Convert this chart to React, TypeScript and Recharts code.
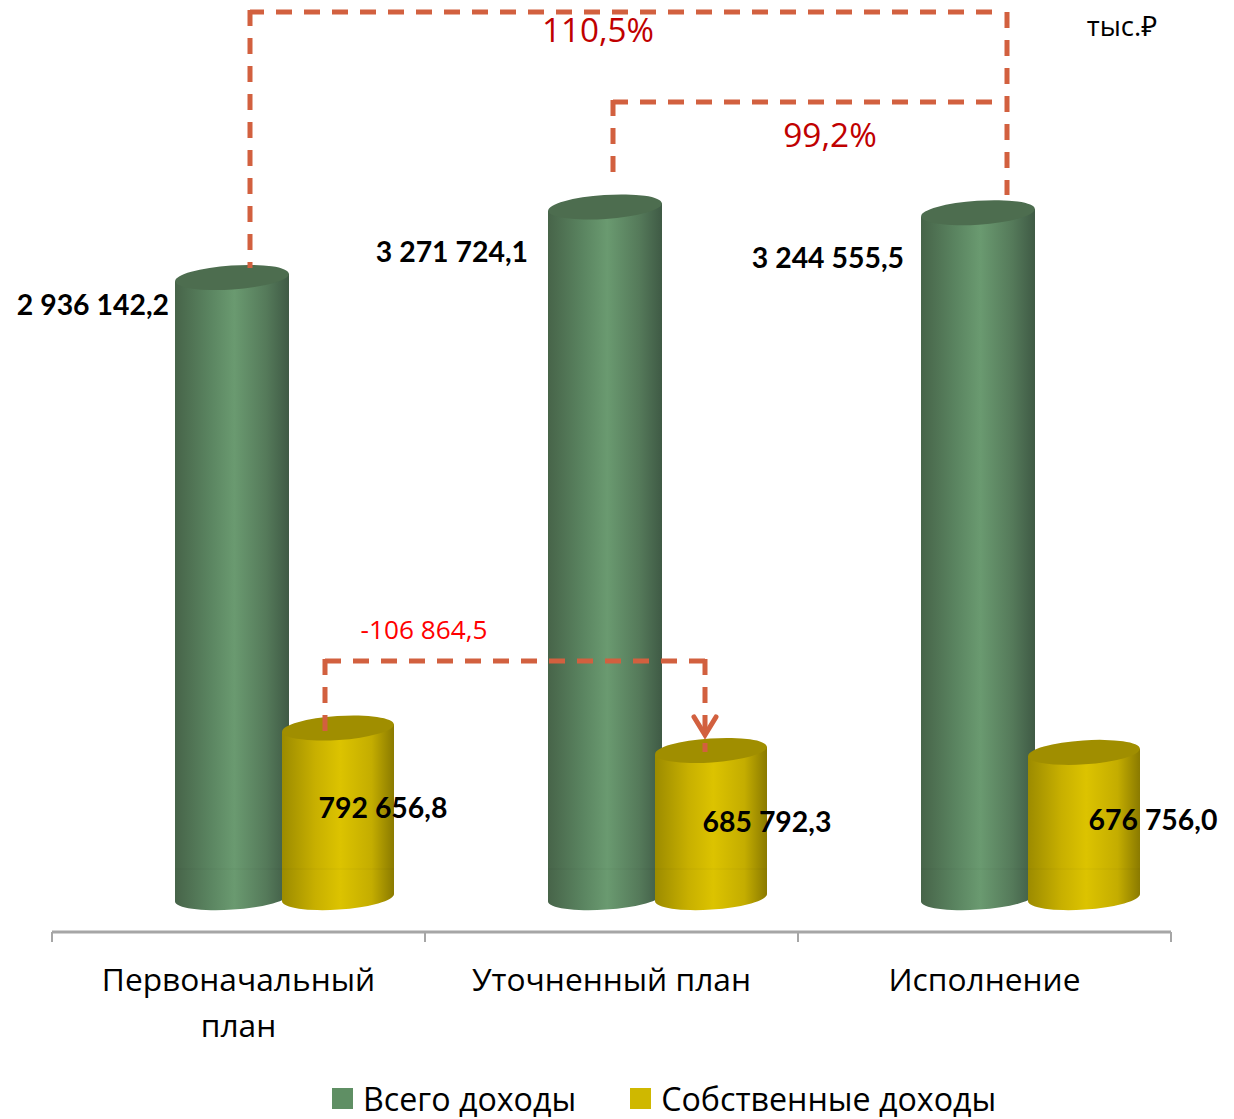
import { BarChart, Bar, XAxis, YAxis, Legend, LabelList } from "recharts";

const categories = ["Первоначальный план", "Уточненный план", "Исполнение"];
const categoryLines = [["Первоначальный", "план"], ["Уточненный план"], ["Исполнение"]];
const totalIncome = [2936142.2, 3271724.1, 3244555.5];
const ownIncome = [792656.8, 685792.3, 676756.0];
const totalLabels = ["2 936 142,2", "3 271 724,1", "3 244 555,5"];
const ownLabels = ["792 656,8", "685 792,3", "676 756,0"];

const data = categories.map((name, i) => ({ name, total: totalIncome[i], own: ownIncome[i] }));

const W = 1234;
const H = 1119;
const SHIFT = 47; // the 3d picture sits to the right of the category centre
const ARROW = "#d2603f";
const LABEL_FONT = "Lato, 'Noto Sans', sans-serif";
const TEXT_FONT = "'Open Sans', 'Noto Sans', sans-serif";

// label anchors relative to the bar top (3d labels in the original were hand placed)
const totalOffset = [
  { dx: -6, dy: 26 },
  { dx: -20, dy: 44 },
  { dx: -17, dy: 44 },
];
const ownOffset = [
  { dx: 44, dy: 79 },
  { dx: 55, dy: 71 },
  { dx: 68, dy: 67 },
];

function cylinder(id: string, stops: string[], top: string, trim: number) {
  return function Cylinder(props: any) {
    const { x, y, height, index } = props;
    const width = props.width - trim;
    const left = x + SHIFT;
    const rx = width / 2;
    const ry = 12;
    const tilt = 3.8;
    const rad = (tilt * Math.PI) / 180;
    const cx = left + rx;
    const bottom = y + height + 3;
    const dy = rx * Math.sin(rad);
    const body = `M${left},${y + dy} L${left},${bottom + dy} A${rx},${ry} ${-tilt} 0 0 ${left + width},${bottom - dy} L${left + width},${y - dy} Z`;
    const gid = `${id}-${index}`;
    return (
      <g>
        <defs>
          <linearGradient id={gid} x1="0" y1="0" x2="1" y2="0">
            <stop offset="0" stopColor={stops[0]} />
            <stop offset="0.3" stopColor={stops[1]} />
            <stop offset="0.52" stopColor={stops[2]} />
            <stop offset="0.8" stopColor={stops[3]} />
            <stop offset="1" stopColor={stops[4]} />
          </linearGradient>
        </defs>
        <path d={body} fill={`url(#${gid})`} />
        <ellipse cx={cx} cy={y} rx={rx} ry={ry} fill={top} transform={`rotate(${-tilt} ${cx} ${y})`} />
        <line x1={left} x2={left + width} y1={869} y2={869} stroke="#000" strokeOpacity={0.04} />
      </g>
    );
  };
}

const GreenBar = cylinder("green", ["#476449", "#5a8460", "#6a9a70", "#557a5a", "#3f5a45"], "#4d6d4f", 0);
const YellowBar = cylinder("yellow", ["#9c8b00", "#c8b000", "#dcc300", "#c4ad00", "#8a7a00"], "#a08e00", 2);

function CategoryTick(props: any) {
  const { x, index } = props;
  const band = 373;
  return (
    <g>
      <line x1={x - band / 2} x2={x - band / 2} y1={932} y2={942} stroke="#a6a6a6" strokeWidth={2} />
      {index === categories.length - 1 && (
        <line x1={x + band / 2} x2={x + band / 2} y1={932} y2={942} stroke="#a6a6a6" strokeWidth={2} />
      )}
      <text textAnchor="middle" style={{ fontFamily: TEXT_FONT, fontSize: 31.7, fill: "#000" }}>
        {categoryLines[index].map((line, i) => (
          <tspan key={line} x={x} y={991 + i * 46}>
            {line}
          </tspan>
        ))}
      </text>
    </g>
  );
}

function barLabel(texts: string[], offsets: { dx: number; dy: number }[], anchor: "end" | "middle") {
  return function BarLabel(props: any) {
    const { x, y, width, index } = props;
    const o = offsets[index];
    const px = anchor === "end" ? x + SHIFT + o.dx : x + SHIFT + width / 2 + o.dx;
    return (
      <text
        x={px}
        y={y + o.dy}
        textAnchor={anchor}
        dominantBaseline="central"
        style={{ fontFamily: LABEL_FONT, fontWeight: 700, fontSize: 28.4, fill: "#000" }}
      >
        {texts[index]}
      </text>
    );
  };
}

function LegendRow({ payload }: any) {
  return (
    <div style={{ display: "flex", paddingLeft: 280, alignItems: "center", height: 42 }}>
      {(payload || []).map((p: any) => (
        <div key={p.value} style={{ display: "flex", alignItems: "center", marginRight: 54 }}>
          <span style={{ width: 21, height: 21, background: p.color, marginRight: 10 }} />
          <span style={{ fontFamily: TEXT_FONT, fontSize: 32.2, color: "#000", whiteSpace: "nowrap" }}>{p.value}</span>
        </div>
      ))}
    </div>
  );
}

function Annotations() {
  const dash = { stroke: ARROW, strokeWidth: 5, strokeDasharray: "16 12", fill: "none" };
  return (
    <svg width={W} height={H} style={{ position: "absolute", left: 0, top: 0, pointerEvents: "none" }}>
      <path d="M992,12 L250,12" {...dash} />
      <path d="M250,10 L250,268" {...dash} />
      <path d="M1007,12 L1007,195" {...dash} />
      <path d="M992,102 L613,102" {...dash} />
      <path d="M613,100 L613,174" {...dash} />
      <path d="M325,661 L705,661" {...dash} />
      <path d="M325,659 L325,735" {...dash} />
      <path d="M705,659 L705,752" {...dash} />
      <path d="M694,717 L705,735 L716,717" stroke={ARROW} strokeWidth={5} fill="none" strokeLinecap="round" />
      <text x={598} y={29} textAnchor="middle" dominantBaseline="central" style={{ fontFamily: TEXT_FONT, fontSize: 33.2, fill: "#c00000" }}>
        110,5%
      </text>
      <text x={830} y={134} textAnchor="middle" dominantBaseline="central" style={{ fontFamily: TEXT_FONT, fontSize: 33.4, fill: "#c00000" }}>
        99,2%
      </text>
      <text x={424} y={629} textAnchor="middle" dominantBaseline="central" style={{ fontFamily: TEXT_FONT, fontSize: 26.2, fill: "#ff0000" }}>
        -106 864,5
      </text>
      <text x={1122} y={25} textAnchor="middle" dominantBaseline="central" style={{ fontFamily: TEXT_FONT, fontSize: 27.5, fill: "#000" }}>
        тыс.₽
      </text>
    </svg>
  );
}

export default function App() {
  return (
    <div style={{ position: "absolute", left: 0, top: 0, width: W, height: H, background: "#fff" }}>
      <BarChart
        width={W}
        height={H}
        data={data}
        barSize={114}
        barGap={-7}
        margin={{ top: 0, right: 63, bottom: 0, left: 52 }}
      >
        <XAxis
          dataKey="name"
          height={145}
          interval={0}
          axisLine={{ stroke: "#a6a6a6", strokeWidth: 3 }}
          tickLine={false}
          tick={CategoryTick}
        />
        <YAxis hide width={0} domain={[-177949, 4256507]} />
        <Legend height={42} content={LegendRow} />
        <Bar dataKey="total" name="Всего доходы" fill="#5f8f64" shape={GreenBar} isAnimationActive={false}>
          <LabelList dataKey="total" content={barLabel(totalLabels, totalOffset, "end")} />
        </Bar>
        <Bar dataKey="own" name="Собственные доходы" fill="#cfb800" shape={YellowBar} isAnimationActive={false}>
          <LabelList dataKey="own" content={barLabel(ownLabels, ownOffset, "middle")} />
        </Bar>
      </BarChart>
      <Annotations />
    </div>
  );
}
